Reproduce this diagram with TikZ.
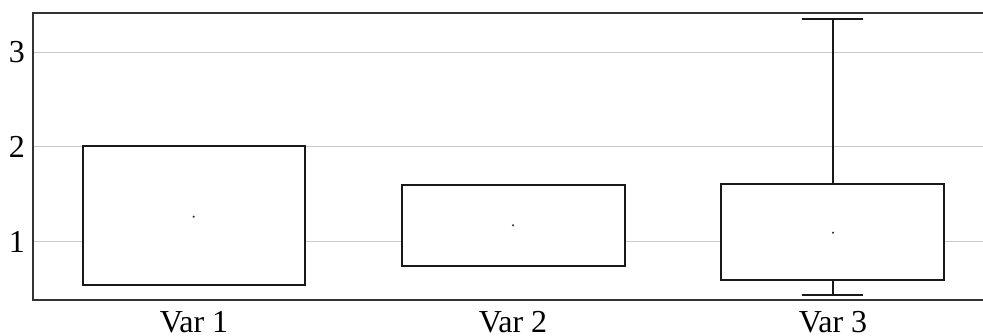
\documentclass[tikz,border=0pt]{standalone}
\usepackage{fontspec}
\setmainfont{Liberation Serif}
\begin{document}
\begin{tikzpicture}[x=1pt,y=-1pt,
  grid/.style={draw=black!22,line width=1pt},
  frame/.style={draw=black!80,line width=1.4pt},
  boxst/.style={draw=black!90,line width=2pt,fill=white},
  whisk/.style={draw=black!90,line width=2pt},
  meandot/.style={fill=black!80,circle,inner sep=0pt,minimum size=2.4pt},
  ticklab/.style={inner sep=0pt,font=\fontsize{32}{32}\selectfont},
  catlab/.style={inner sep=0pt,anchor=base,font=\fontsize{32}{32}\selectfont}]
\useasboundingbox (0,0) rectangle (983,335);
\fill[white] (0,0) rectangle (983,335);
% grid lines
\draw[grid] (33,52.3) -- (983,52.3);
\draw[grid] (33,146) -- (983,146);
\draw[grid] (33,241.7) -- (983,241.7);
% frame
\draw[frame] (983,13) -- (33,13) -- (33,300) -- (983,300);
% tick labels
\node[ticklab] (t3) at (17,52.5) {3};
\node[ticklab] (t2) at (17,146.5) {2};
\node[ticklab] (t1) at (17,241.5) {1};
% Var 1
\draw[boxst] (82.7,146) rectangle (305.3,285);
\node[meandot] (m1) at (193.7,216.7) {};
% Var 2
\draw[boxst] (401.7,185) rectangle (624.7,265.7);
\node[meandot] (m2) at (513,225.3) {};
% Var 3
\coordinate (w3top) at (833,19);
\coordinate (w3bot) at (833,295);
\draw[whisk] (w3top) -- (833,184);
\draw[whisk] (833,280) -- (w3bot);
\draw[whisk] (801.7,19) -- (863.3,19);
\draw[whisk] (801.7,295) -- (863.3,295);
\draw[boxst] (721,184) rectangle (944.3,280);
\node[meandot] (m3) at (833,232.7) {};
% category labels
\node[catlab] (v1) at (194,332) {Var 1};
\node[catlab] (v2) at (513,332) {Var 2};
\node[catlab] (v3) at (833,332) {Var 3};
\end{tikzpicture}
\end{document}
